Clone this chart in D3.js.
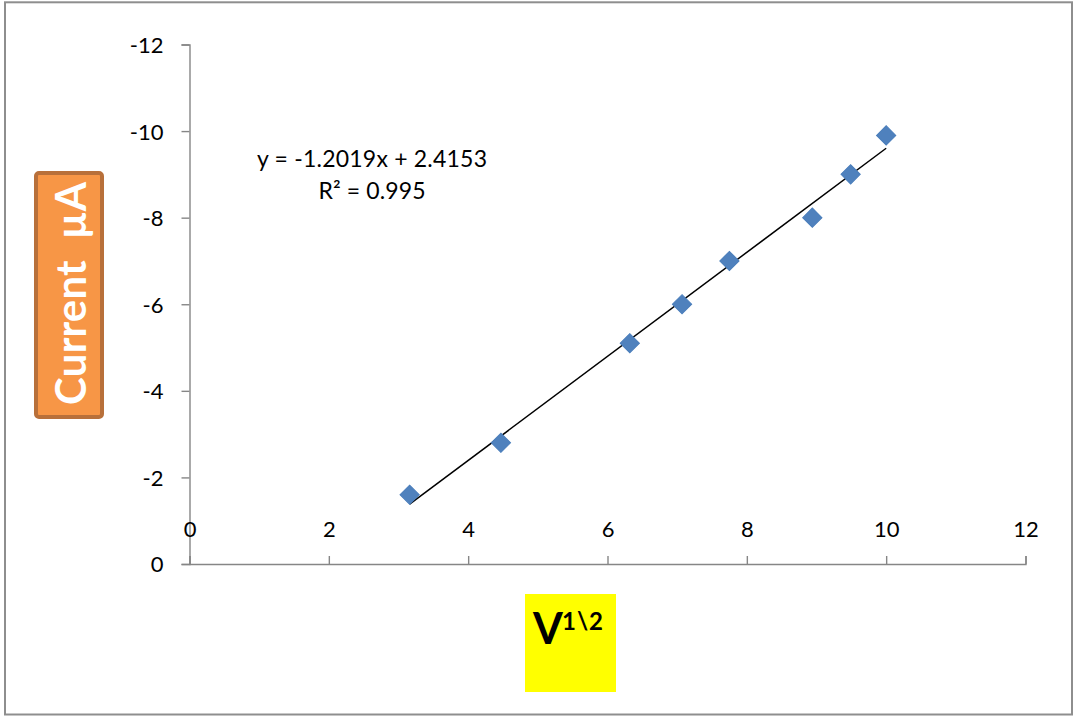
<!DOCTYPE html>
<html>
<head>
<meta charset="utf-8">
<script src="https://cdn.jsdelivr.net/npm/d3@7"></script>
<style>
  html, body { margin: 0; padding: 0; background: #fff; }
  svg { display: block; font-family: Lato, "Open Sans", sans-serif; }
</style>
</head>
<body>
<svg id="chart" width="1075" height="716"></svg>
<script>
// Square root of sweep rate versus peak current
const sqrtRate = [3.16, 4.47, 6.32, 7.07, 7.75, 8.94, 9.49, 10.0];
const current = [-1.6, -2.8, -5.1, -6.0, -7.0, -8.0, -9.0, -9.9];

// Linear fit reported on the chart
const fitSlope = [-1.2019];
const fitIntercept = [2.4153];
const fitR2 = [0.995];

const xTicks = [0, 2, 4, 6, 8, 10, 12];
const yTicks = [0, -2, -4, -6, -8, -10, -12];

const svg = d3.select("#chart");

// outer frame
svg.append("rect")
  .attr("x", 5).attr("y", 2.3)
  .attr("width", 1067).attr("height", 712.2)
  .attr("fill", "#fff")
  .attr("stroke", "#8e8e8e")
  .attr("stroke-width", 2);

const x = d3.scaleLinear().domain([0, 12]).range([189.5, 1025.5]);
const y = d3.scaleLinear().domain([0, -12]).range([564, 44.5]);

const axisColor = "#868686";
const fmt = d => String(d);

// vertical axis (0 at bottom, -12 at top)
const gy = svg.append("g")
  .attr("transform", `translate(${x(0)},0)`)
  .call(d3.axisLeft(y).tickValues(yTicks).tickFormat(fmt)
    .tickSize(8).tickPadding(18));

// horizontal axis, labels above the line
const gx = svg.append("g")
  .attr("transform", `translate(0,${y(0)})`)
  .call(d3.axisTop(x).tickValues(xTicks).tickFormat(fmt)
    .tickSize(8).tickPadding(19));

[gx, gy].forEach(g => {
  g.selectAll("path, line").attr("stroke", axisColor).attr("stroke-width", 1.4);
  g.selectAll("text")
    .attr("fill", "#000")
    .style("font-family", "Lato, sans-serif")
    .style("font-size", "22px");
});
gy.selectAll("text").attr("dy", "0.36em");

// trend line
const xr = d3.extent(sqrtRate);
const fit = v => fitSlope[0] * v + fitIntercept[0];
svg.append("line")
  .attr("x1", x(xr[0])).attr("y1", y(fit(xr[0])))
  .attr("x2", x(xr[1])).attr("y2", y(fit(xr[1])))
  .attr("stroke", "#000")
  .attr("stroke-width", 1.5);

// data markers (diamonds)
const diamond = d3.symbol().type(d3.symbolSquare).size(185);
svg.append("g").selectAll("path")
  .data(sqrtRate.map((v, i) => [v, current[i]]))
  .join("path")
  .attr("d", diamond)
  .attr("transform", d => `translate(${x(d[0])},${y(d[1])}) rotate(45)`)
  .attr("fill", "#4f81bd")
  .attr("stroke", "#4a7ebb")
  .attr("stroke-width", 1);

// equation label
const eq = svg.append("g")
  .attr("fill", "#000")
  .style("font-size", "23px")
  .attr("text-anchor", "middle");
eq.append("text")
  .attr("x", 372).attr("y", 167)
  .attr("textLength", 230).attr("lengthAdjust", "spacing")
  .text(`y = ${fitSlope[0]}x + ${fitIntercept[0]}`);
eq.append("text")
  .attr("x", 372).attr("y", 199)
  .attr("textLength", 107).attr("lengthAdjust", "spacing")
  .text(`R² = ${fitR2[0]}`);

// y axis title box
svg.append("rect")
  .attr("x", 36).attr("y", 173)
  .attr("width", 66).attr("height", 244)
  .attr("rx", 3)
  .attr("fill", "#f79646")
  .attr("stroke", "#b8703a")
  .attr("stroke-width", 4);
svg.append("text")
  .attr("transform", "translate(86,293.5) rotate(-90)")
  .attr("text-anchor", "middle")
  .attr("fill", "#fff")
  .style("font-size", "42px")
  .style("font-weight", "bold")
  .style("white-space", "pre")
  .attr("textLength", 223).attr("lengthAdjust", "spacing")
  .text("Current  µA");

// x axis title box
svg.append("rect")
  .attr("x", 525).attr("y", 594)
  .attr("width", 91).attr("height", 98)
  .attr("fill", "#ffff00");
const xt = svg.append("text")
  .attr("x", 533).attr("y", 644)
  .attr("fill", "#000")
  .style("font-weight", "bold");
xt.append("tspan").style("font-size", "43px").text("V");
xt.append("tspan")
  .attr("x", 562).attr("y", 630)
  .style("font-size", "24px")
  .style("letter-spacing", "1px")
  .text("1\\2");
</script>
</body>
</html>
